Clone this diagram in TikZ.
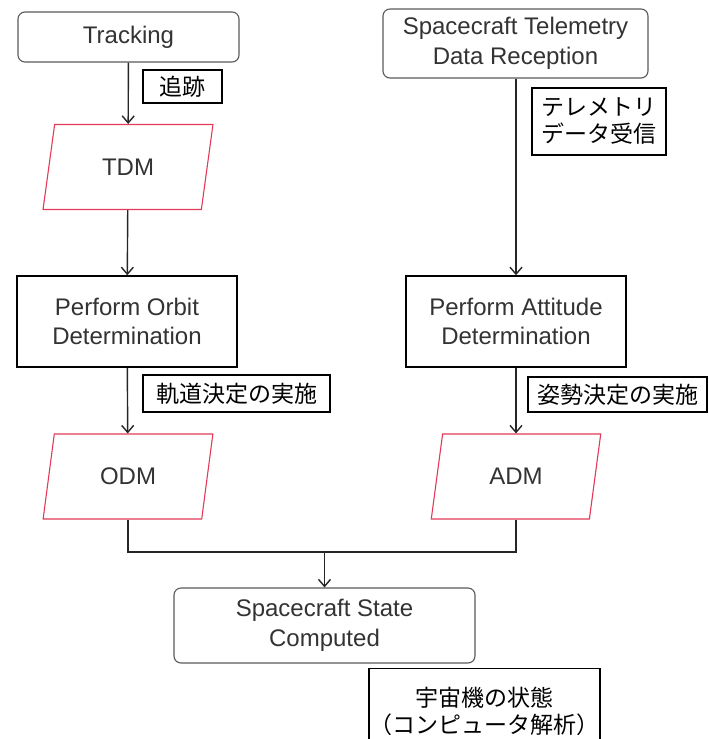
\documentclass[tikz,border=0pt]{standalone}
\usepackage{fontspec}
\setmainfont{Liberation Sans}
\newfontfamily\jpfont{Noto Sans CJK JP}
\usetikzlibrary{shapes.geometric,arrows.meta}
\definecolor{txtgray}{RGB}{51,51,51}
\definecolor{edgegray}{RGB}{90,90,90}
\definecolor{datared}{RGB}{226,58,88}
\tikzset{
	endbox/.style={draw=edgegray,line width=1.1pt,rounded corners=7pt,fill=white,align=center,text=txtgray,font=\fontsize{24}{30}\selectfont},
	procbox/.style={draw=black,line width=1.5pt,fill=white,align=center,text=txtgray,font=\fontsize{24}{29}\selectfont},
	databox/.style={trapezium,trapezium left angle=76,trapezium right angle=104,trapezium stretches=true,draw=datared,line width=1.1pt,fill=white,text=txtgray,font=\fontsize{24}{29}\selectfont,inner sep=0pt,minimum width=170,minimum height=85},
	jpnote/.style={draw=black,line width=1.1pt,fill=white,align=center,inner sep=0pt,font=\jpfont\fontsize{23}{27}\selectfont},
	arr/.style={line width=1.4pt,draw=black!85,-{Straight Barb[length=7pt,width=12pt]}},
	ln/.style={line width=1.4pt,draw=black!85}
}
\begin{document}
\begin{tikzpicture}[x=1pt,y=-1pt]
	\useasboundingbox (0,0) rectangle (709,739);
	
	%Left Column
	\node[endbox,minimum width=221,minimum height=50] (track) at (128.5,37) {Tracking};
	\node[databox] (tdm) at (128,167) {TDM};
	\node[procbox,minimum width=220,minimum height=91] (pod) at (127,321.5) {Perform Orbit\\Determination};
	\node[databox] (odm) at (128,476.5) {ODM};
	
	%Right Column
	\node[endbox,minimum width=265,minimum height=69] (tele) at (515.5,43.5) {Spacecraft Telemetry\\Data Reception};
	\node[procbox,minimum width=220,minimum height=91] (pad) at (516,321.5) {Perform Attitude\\Determination};
	\node[databox] (adm) at (516,476.5) {ADM};
	
	%Result
	\node[endbox,minimum width=301,minimum height=75] (state) at (324.5,625.5) {Spacecraft State\\Computed};
	\coordinate (mrg) at (324.5,552);
	
	%Flow
	\draw[arr] (track) -- (tdm);
	\draw[arr] (tdm) -- (pod);
	\draw[arr] (pod) -- (odm);
	\draw[arr] (tele.south -| pad.north) -- (pad);
	\draw[arr] (pad) -- (adm);
	\draw[ln] (odm.south) -- (odm.south |- mrg) -| (adm.south);
	\draw[arr] (mrg) -- (state);
	
	%Japanese Notes
	\node[jpnote,minimum width=79,minimum height=33] (n1) at (182.5,86.5) {追跡};
	\node[jpnote,minimum width=134,minimum height=67] (n2) at (599,121.5) {テレメトリ\\データ受信};
	\node[jpnote,minimum width=187,minimum height=37] (n3) at (236.5,393.5) {軌道決定の実施};
	\node[jpnote,minimum width=179,minimum height=35] (n4) at (617.5,394.5) {姿勢決定の実施};
	\node[jpnote,minimum width=231,minimum height=92,anchor=north,text depth=9pt] (n5) at (484.5,668) {宇宙機の状態\\（コンピュータ解析）};
	
\end{tikzpicture}
\end{document}
